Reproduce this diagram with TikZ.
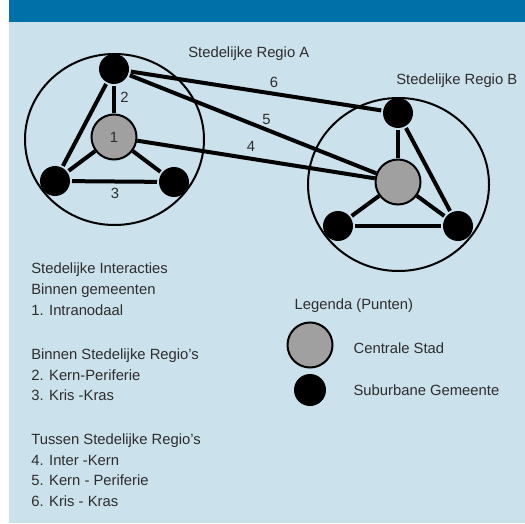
\documentclass[tikz,border=0pt]{standalone}
\usepackage{fontspec}
\setmainfont{Liberation Sans}
\definecolor{balk}{RGB}{0,113,168}
\definecolor{vlak}{RGB}{203,225,236}
\definecolor{grijs}{RGB}{160,160,160}
\definecolor{tekst}{RGB}{45,45,45}

\begin{document}
\begin{tikzpicture}[x=1bp, y=-1bp, line width=4bp,
    font=\fontsize{14.8bp}{18bp}\selectfont,
    kern/.style={circle, draw=black, line width=2bp, fill=grijs, text=tekst,
                 minimum size=45bp, inner sep=0pt},
    sub/.style={circle, fill=black, minimum size=30bp, inner sep=0pt},
    label/.style={anchor=base, text=tekst},
    regel/.style={anchor=base west, text=tekst}]

    \useasboundingbox (0,0) rectangle (525,524);

    % -- Achtergrond: balk en vlak --
    \fill[balk] (9,0) rectangle (525,22);
    \fill[vlak] (9,22) rectangle (525,523);

    % -- Stedelijke Regio A --
    \draw[line width=2bp] (114.5,139.5) ellipse [x radius=89.5, y radius=85.5];
    \node[sub]  (at) at (114,69)  {};
    \node[kern] (ac) at (114,137) {1};
    \node[sub]  (al) at (55,181)  {};
    \node[sub]  (ar) at (174,182) {};

    \draw (at) -- (ac);
    \draw (at) -- (al);
    \draw (al) -- (ar);
    \draw (ac) -- (al);
    \draw (ac) -- (ar);

    \node[regel] (naama) at (183,58) {Stedelijke Regio A};
    \node[label] (l2) at (124.5,102.7) {2};
    \node[label] (l3) at (115,198.3) {3};

    % -- Stedelijke Regio B --
    \draw[line width=2bp] (398.5,184.5) ellipse [x radius=90.5, y radius=86.5];
    \node[sub]  (bt) at (398,113) {};
    \node[kern] (bc) at (398,182) {};
    \node[sub]  (bl) at (338,226) {};
    \node[sub]  (br) at (458,226) {};

    \draw (bt) -- (bc);
    \draw (bt) -- (br);
    \draw (bl) -- (br);
    \draw (bc) -- (bl);
    \draw (bc) -- (br);

    \node[regel] (naamb) at (391,85) {Stedelijke Regio B};

    % -- Tussen de regio's --
    \draw (at) -- (bt);
    \draw (at) -- (bc);
    \draw (ac) -- (bc);
    \node[label] (l6) at (274,87.3)  {6};
    \node[label] (l5) at (266.5,125) {5};
    \node[label] (l4) at (251,151.7) {4};

    % -- Lijst met interacties --
    \foreach \y/\t [count=\i] in {273.3/Stedelijke Interacties,
                                  294.3/Binnen gemeenten,
                                  315/1. Intranodaal,
                                  359.3/Binnen Stedelijke Regio’s,
                                  380/2. Kern-Periferie,
                                  400.7/3. Kris -Kras,
                                  444.3/Tussen Stedelijke Regio’s,
                                  465/4. Inter -Kern,
                                  485.3/5. Kern - Periferie,
                                  506/6. Kris - Kras}
        \node[regel] (r\i) at (26,\y) {\t};

    % -- Legenda --
    \node[regel] (leg) at (289.3,309.3) {Legenda (Punten)};
    \node[kern] (lc) at (310,345) {};
    \node[sub, minimum size=32bp] (ls) at (310,390) {};
    \node[regel] (lct) at (348.3,353.3) {Centrale Stad};
    \node[regel] (lst) at (348.3,395) {Suburbane Gemeente};
\end{tikzpicture}
\end{document}
